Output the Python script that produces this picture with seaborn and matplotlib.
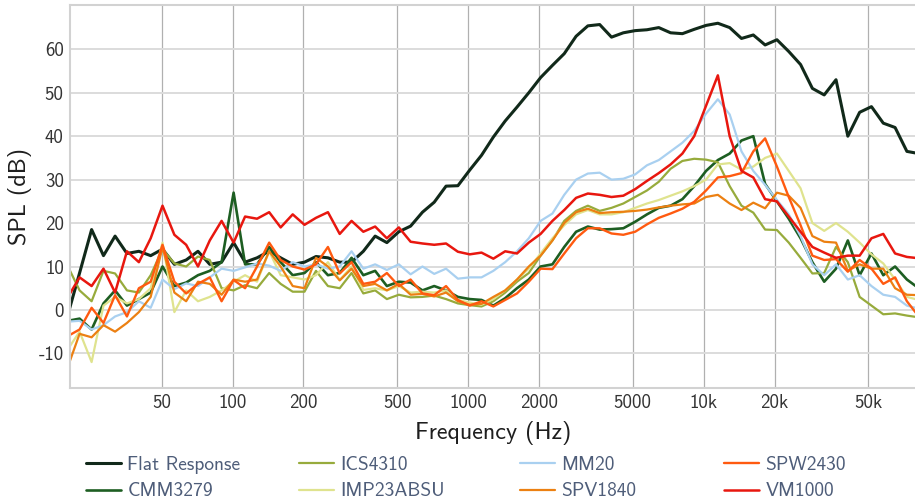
import matplotlib
matplotlib.use("Agg")
import matplotlib.pyplot as plt
import pandas as pd
import seaborn as sns

# Frequency grid (Hz), roughly 1/6 octave steps
freq_hz = [20, 22.4, 25.2, 28.3, 31.7, 35.6, 40, 44.9, 50.4, 56.6,
           63.5, 71.3, 80, 89.8, 101, 113, 127, 143, 160, 180,
           202, 226, 254, 285, 320, 359, 403, 452, 508, 570,
           640, 718, 806, 905, 1016, 1140, 1280, 1437, 1613, 1810,
           2032, 2281, 2560, 2874, 3225, 3620, 4064, 4561, 5120, 5747,
           6451, 7241, 8127, 9123, 10240, 11494, 12902, 14482, 16255, 18245,
           20480, 22988, 25803, 28963, 32510, 36491, 40960, 45975, 51606, 57926,
           65019, 72981, 81920]

flat_response = [-1, 8.5, 18.5, 12.5, 17, 13, 13.5, 12.5, 14, 10.5,
                 11.5, 13.5, 10.5, 11, 15.5, 11, 12, 13.5, 12, 10.5,
                 11, 12.3, 12, 11, 11, 13.5, 17, 15.5, 18, 19.3,
                 22.5, 24.8, 28.5, 28.6, 32.2, 35.6, 39.8, 43.5, 46.7, 50,
                 53.5, 56.3, 59, 63, 65.4, 65.7, 62.8, 63.8, 64.3, 64.5,
                 65, 63.8, 63.6, 64.6, 65.5, 66, 65, 62.5, 63.3, 61,
                 62.2, 59.5, 56.5, 51, 49.5, 53, 40, 45.5, 46.8, 43,
                 42, 36.5, 36]

cmm3279 = [-2.5, -2, -4.5, 1.5, 4.5, 1, 2.5, 4, 10, 5.5,
           6.3, 8, 9, 11, 27, 10.5, 10.5, 14.5, 11, 8,
           8.5, 11, 8, 8.5, 12, 8, 9, 5.5, 6.5, 6.3,
           4.5, 5.5, 4.5, 3, 2.5, 2.3, 1, 2.7, 5, 7,
           10, 10.5, 14.5, 18, 19.2, 18.5, 18.6, 18.8, 20.3, 22,
           23.5, 24, 25.5, 28.5, 32, 34.5, 36, 39, 40, 29,
           25, 21, 16.5, 11, 6.5, 9.5, 16, 8, 13, 8,
           10, 7, 5]

ics4310 = [10, 4.5, 2, 9, 8.4, 4.5, 4, 8, 14, 10.7,
           10, 12.3, 11.5, 5, 4.5, 5.7, 5, 8.5, 6, 4.2,
           4.2, 9, 5.5, 5, 8.5, 3.8, 4.5, 2.5, 3.5, 2.9,
           3, 3.3, 2.5, 1.5, 1.1, 0.8, 2, 4, 6.5, 8.5,
           12.5, 16, 20.5, 22.8, 24, 22.8, 23.5, 24.5, 26, 27.5,
           29.5, 32.5, 34.3, 34.8, 34.6, 34, 28.5, 24, 22.4, 18.5,
           18.4, 15.5, 12, 8.4, 8.5, 14.5, 11, 3, 1, -1,
           -0.8, -1.3, -1.7]

imp23absu = [-9, -5, -12, 1, 3, 1.5, 2.5, 5, 15.5, -0.5,
             4.5, 2, 3, 4.5, 6.5, 8, 6.5, 13.5, 8, 7.5,
             7, 8, 11, 6.9, 10, 4.6, 5, 4.5, 5.5, 4,
             4.2, 4, 4.5, 2.3, 1.7, 1.2, 2.5, 4.5, 7, 9.5,
             13, 16.5, 19.5, 22, 23, 22, 22, 22.5, 23.5, 24.5,
             25.3, 26.3, 27.3, 28.5, 30, 33.5, 33.8, 32.3, 33, 35,
             36, 32, 28, 20, 18.2, 20, 18, 15.5, 12.8, 10.7,
             7, 3, 2.3]

mm20 = [-2.7, -2.5, -4.5, -3.5, -1.5, -0.5, 2, 0.5, 7, 4.8,
        6.1, 5.5, 7.5, 9.5, 9, 9.8, 10.7, 10.2, 9, 11,
        10, 10.5, 9.5, 10, 13.5, 9.5, 10.5, 9.2, 10.5, 8.2,
        10, 8.3, 9.5, 7.2, 7.5, 7.5, 9, 11, 13.5, 16.5,
        20.5, 22.2, 26.5, 30, 31.4, 31.6, 30, 30.2, 31.2, 33.3,
        34.5, 36.5, 38.5, 41.2, 45.2, 48.5, 45, 36.5, 32, 28.8,
        25.3, 22, 17, 10.5, 8, 10.5, 7, 8, 5.5, 3.5,
        3, 1, 0.3]

spv1840 = [-13, -5.5, -6.3, -3.5, -5, -3, -0.5, 3, 14.5, 4,
           2, 6.5, 6, 3.5, 7, 6.5, 7, 13.5, 10, 5.5,
           5, 12, 10, 6.8, 9.5, 5.5, 6, 4.5, 6, 3.5,
           3.7, 3.1, 4, 2, 1.2, 1.4, 3, 4.5, 7, 10,
           12.5, 16, 20, 22.5, 23.3, 22.3, 22.5, 22.6, 22.8, 23.1,
           23.6, 24, 24.3, 24.5, 26, 26.5, 24.5, 23, 24.7, 23.4,
           27, 26.3, 23.5, 17, 15.7, 15.5, 9, 10.5, 9.5, 9.5,
           5, 3.5, 3.4]

spw2430 = [-6, -4.5, 0.5, -3, 3.4, -1.5, 5, 6.5, 15, 6.5,
           3.8, 6, 7.5, 2, 6.9, 5, 10, 15.5, 11.5, 10,
           9.3, 10.5, 14.5, 8.4, 11, 6, 6.5, 8.5, 5.5, 7,
           3.8, 3.4, 5.5, 2.3, 1, 2, 0.8, 2.3, 3.8, 6.5,
           9.5, 9.4, 13, 16.5, 18.8, 18.8, 17.6, 17.3, 18, 19.7,
           21.2, 22.2, 23.3, 24.9, 27.5, 30.5, 30.8, 31.5, 36.5, 39.5,
           33, 26, 19.5, 12.5, 11.5, 11.7, 8.8, 11.5, 9.5, 6,
           7.5, 2, -1.5]

vm1000 = [3, 7.5, 5.5, 9.5, 4, 13.5, 11, 16.5, 24, 17.3,
          15, 10, 16, 20.5, 15.5, 21.5, 21, 22.5, 19, 22,
          19.6, 21.2, 22.5, 17.5, 20.5, 18, 19.2, 16.5, 19, 15.7,
          15.3, 15, 15.3, 13.4, 12.8, 13.2, 11.8, 13.5, 13, 15.5,
          17.5, 20.5, 23, 25.8, 26.8, 26.5, 26, 26.3, 27.8, 29.7,
          31.5, 33.5, 36, 40, 47, 54, 40, 32, 30.5, 25.5,
          25, 21.5, 18, 14.5, 13.2, 12, 12.5, 12.5, 16.5, 17.5,
          13, 12.2, 11.9]

series_names = ["Flat Response", "CMM3279", "ICS4310", "IMP23ABSU",
                "MM20", "SPV1840", "SPW2430", "VM1000"]
series_values = [flat_response, cmm3279, ics4310, imp23absu,
                 mm20, spv1840, spw2430, vm1000]
series_colors = ["#11291a", "#1d5e22", "#97ab3c", "#dfe38e",
                 "#a9d0f0", "#ec8012", "#ff5a10", "#e8170f"]
series_widths = [2.2, 1.9, 1.6, 1.6, 1.6, 1.6, 1.7, 1.8]

xtick_values = [50, 100, 200, 500, 1000, 2000, 5000, 10000, 20000, 50000]
xtick_labels = ["50", "100", "200", "500", "1000", "2000", "5000", "10k", "20k", "50k"]
ytick_values = [-10, 0, 10, 20, 30, 40, 50, 60]

df = pd.concat(
    [pd.DataFrame({"Frequency": freq_hz, "SPL": vals, "Series": name})
     for name, vals in zip(series_names, series_values)],
    ignore_index=True)

sns.set_theme(style="white")
plt.rcParams["font.family"] = ["cmss10", "DejaVu Sans"]
plt.rcParams["axes.unicode_minus"] = False

W, H = 915, 504
fig = plt.figure(figsize=(W / 100, H / 100), dpi=100)
left_px, right_px, top_px, bottom_px = 70, 916.3, 5, 387.7
ax = fig.add_axes([left_px / W, 1 - bottom_px / H,
                   (right_px - left_px) / W, (bottom_px - top_px) / H])

for name, color, lw in zip(series_names, series_colors, series_widths):
    sns.lineplot(data=df[df["Series"] == name], x="Frequency", y="SPL",
                 color=color, linewidth=lw, ax=ax, label=name,
                 errorbar=None)

ax.set_xscale("log")
ax.set_xlim(20.4, 80000)
ax.set_ylim(-17.9, 70.2)
ax.set_xticks(xtick_values, labels=xtick_labels)
ax.set_yticks(ytick_values)
ax.minorticks_off()

ax.grid(axis="y", color="#dcdcdc", linewidth=1.4)
ax.grid(axis="x", color="#b0b0b0", linewidth=0.9)
ax.set_axisbelow(True)
for side in ["left", "top", "bottom"]:
    ax.spines[side].set_color("#d2d2d2")
    ax.spines[side].set_linewidth(1.5)
ax.spines["right"].set_visible(False)

ax.tick_params(axis="both", length=0, labelsize=13.6, labelcolor="#333333", pad=4.5)

ax.set_xlabel("Frequency (Hz)", fontsize=17.3, color="#1e1e1e")
ax.set_ylabel("SPL (dB)", fontsize=17.3, color="#1e1e1e")
ax.xaxis.set_label_coords(0.5, -0.087)
ax.yaxis.set_label_coords(-0.045, 0.5)

handles, labels = ax.get_legend_handles_labels()
ax.get_legend().remove()

col_x_px = [86, 299, 520, 724]
for c, x_px in enumerate(col_x_px):
    fig.legend(handles[2 * c:2 * c + 2], labels[2 * c:2 * c + 2],
               loc="center left", bbox_to_anchor=(x_px / W, 1 - 478 / H),
               frameon=False, fontsize=14, labelcolor="#4e5d79",
               handlelength=1.8, handletextpad=0.33, labelspacing=0.45,
               borderpad=0, borderaxespad=0)

fig.savefig("out.png", dpi=100)
